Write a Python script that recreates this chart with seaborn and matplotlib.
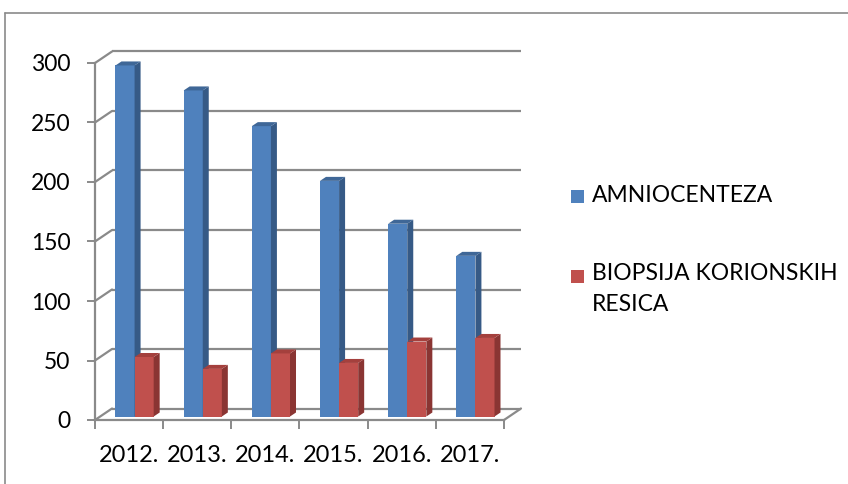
import numpy as np
import pandas as pd
import matplotlib
matplotlib.use('Agg')
import matplotlib.pyplot as plt
import seaborn as sns
from matplotlib.patches import Polygon, Rectangle
from matplotlib.lines import Line2D

years = ['2012.', '2013.', '2014.', '2015.', '2016.', '2017.']
amniocenteza = [295, 274, 244, 198, 162, 135]
biopsija = [50, 40, 53, 45, 63, 66]
series_names = ['AMNIOCENTEZA', 'BIOPSIJA KORIONSKIH\nRESICA']
y_ticks = [0, 50, 100, 150, 200, 250, 300]

sns.set_theme(style='white')
plt.rcParams['font.family'] = ['Lato', 'DejaVu Sans']

W, H = 848, 484
fig = plt.figure(figsize=(W / 100, H / 100), dpi=100)
fig.patch.set_facecolor('white')
ax = fig.add_axes([95 / W, (H - 420) / H, 409 / W, 357 / H])

df = pd.DataFrame({
    'year': years * 2,
    'value': amniocenteza + biopsija,
    'series': [series_names[0]] * len(years) + [series_names[1]] * len(years),
})
front_colors = ['#4F81BD', '#C0504D']
side_colors = ['#365A86', '#8A3533']
top_colors = ['#3F6797', '#A4403D']
grid_col = '#8A8A8A'

sns.barplot(data=df, x='year', y='value', hue='series', palette=front_colors,
            width=0.56, saturation=1, ax=ax, legend=False, linewidth=0,
            errorbar=None)
ax.set_xlim(-0.5, len(years) - 0.5)
ax.set_ylim(0, 300)
ax.set_xlabel('')
ax.set_ylabel('')
ax.set_facecolor('none')

p0 = ax.transData.transform((0, 0))
p1 = ax.transData.transform((1, 1))
ux = p1[0] - p0[0]
uy = p1[1] - p0[1]

# depth offsets (pixels)
fx, fy = 5.5 / ux, 3.5 / uy       # bar front face behind front plane
dx, dy = 6.0 / ux, 4.0 / uy       # bar depth
bx, by = 17.0 / ux, 11.5 / uy     # back wall

for k, cont in enumerate(ax.containers):
    for p in cont.patches:
        x0 = p.get_x() + fx
        w = p.get_width()
        h = p.get_height()
        p.set_x(x0)
        p.set_y(fy)
        p.set_zorder(3 + k)
        p.set_clip_on(False)
        x1 = x0 + w
        side = Polygon([(x1, fy), (x1 + dx, fy + dy), (x1 + dx, fy + h + dy), (x1, fy + h)],
                       closed=True, facecolor=side_colors[k], edgecolor='none',
                       zorder=3 + k, clip_on=False)
        top = Polygon([(x0, fy + h), (x0 + dx, fy + h + dy), (x1 + dx, fy + h + dy), (x1, fy + h)],
                      closed=True, facecolor=top_colors[k], edgecolor='none',
                      zorder=3 + k, clip_on=False)
        ax.add_patch(side)
        ax.add_patch(top)

xl, xr = -0.5, len(years) - 0.5
for v in y_ticks:
    ax.plot([xl + bx, xr + bx], [v + by, v + by], color=grid_col, lw=1.6,
            clip_on=False, zorder=1, solid_capstyle='butt')
    ax.plot([xl, xl + bx], [v, v + by], color=grid_col, lw=1.6,
            clip_on=False, zorder=1)
ax.plot([xr, xr + bx], [0, by], color=grid_col, lw=1.6, clip_on=False, zorder=1)

for s in ['top', 'right']:
    ax.spines[s].set_visible(False)
for s in ['left', 'bottom']:
    ax.spines[s].set_color(grid_col)
    ax.spines[s].set_linewidth(1.6)
    ax.spines[s].set_zorder(2)

ax.set_yticks(y_ticks)
ax.set_yticklabels([str(v) for v in y_ticks])
ax.tick_params(axis='y', which='major', direction='out', length=5.8, width=1.4,
               color=grid_col, pad=12, labelsize=16.5, labelcolor='black', left=True)
ax.set_xticks(range(len(years)))
ax.set_xticklabels(years)
ax.set_xticks(np.arange(len(years) + 1) - 0.5, minor=True)
ax.tick_params(axis='x', which='major', length=0, pad=18, labelsize=17, labelcolor='black')
ax.tick_params(axis='x', which='minor', direction='out', length=6.5, width=1.4,
               color=grid_col, bottom=True)

# legend
fs_leg = 16.5
fig.add_artist(Rectangle((571 / W, (H - 203) / H), 13 / W, 13 / H,
                         transform=fig.transFigure, facecolor=front_colors[0], edgecolor='none'))
fig.text(592 / W, (H - 196) / H, series_names[0], fontsize=fs_leg, va='center', ha='left', color='black')
fig.add_artist(Rectangle((571 / W, (H - 283) / H), 13 / W, 13 / H,
                         transform=fig.transFigure, facecolor=front_colors[1], edgecolor='none'))
fig.text(592 / W, (H - 263) / H, series_names[1], fontsize=fs_leg, va='top', ha='left',
         color='black', linespacing=1.6)

# outer frame
fig.add_artist(Line2D([5 / W, 1], [(H - 12.5) / H, (H - 12.5) / H], transform=fig.transFigure,
                      color='#8A8A8A', lw=1.2))
fig.add_artist(Line2D([5 / W, 5 / W], [0, (H - 12.5) / H], transform=fig.transFigure,
                      color='#8A8A8A', lw=1.2))

fig.savefig('out.png', dpi=100, facecolor='white')
